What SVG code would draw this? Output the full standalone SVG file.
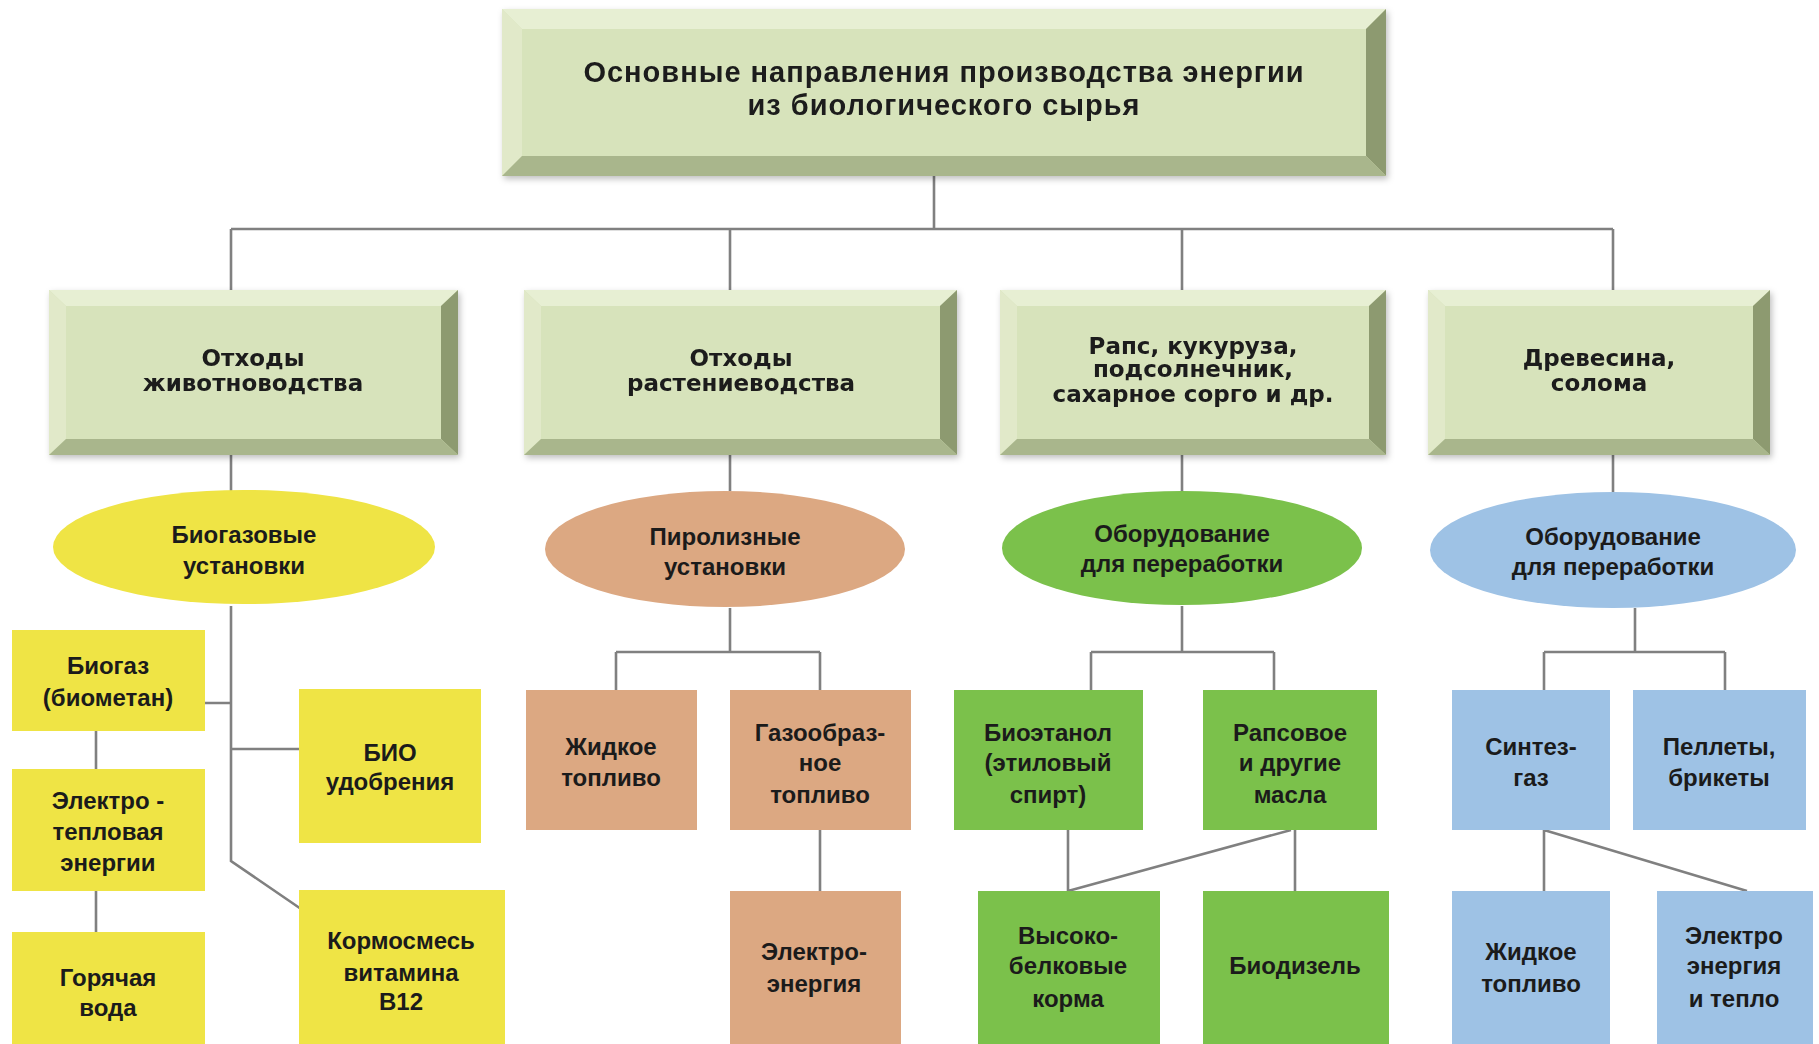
<svg xmlns="http://www.w3.org/2000/svg" width="1819" height="1044" viewBox="0 0 1819 1044">
<style>
  .face{fill:#d7e3bb}
  .bt{fill:#e7efd3}
  .bl{fill:#e1e9c9}
  .br{fill:#8d9a70}
  .bb{fill:#a9b68c}
  .conn{stroke:#808080;stroke-width:2.6;fill:none}
  .t1{font-family:"Liberation Sans","Arial",sans-serif;font-weight:bold;font-size:29px;letter-spacing:1px;fill:#1b1b1b;text-anchor:middle;dominant-baseline:central}
  .t2{font-family:"DejaVu Sans","Verdana",sans-serif;font-weight:bold;font-size:23px;fill:#1b1b1b;text-anchor:middle;dominant-baseline:central}
  .t3{font-family:"Liberation Sans","Arial",sans-serif;font-weight:bold;font-size:24px;fill:#1b1b1b;text-anchor:middle;dominant-baseline:central}
  .yel{fill:#efe445}
  .tan{fill:#dca882}
  .grn{fill:#7bc14b}
  .blu{fill:#9ec2e5}
</style>
<defs>
  <filter id="sh" x="-5%" y="-5%" width="112%" height="115%">
    <feDropShadow dx="2" dy="3" stdDeviation="3" flood-color="#000" flood-opacity="0.25"/>
  </filter>
</defs>
<rect width="1819" height="1044" fill="#ffffff"/>

<g id="connectors" class="conn">
  <path d="M934 176 V229 M231 229 H1613 M231 229 V290 M730 229 V290 M1182 229 V290 M1613 229 V290"/>
  <path d="M231 455 V491 M730 455 V491 M1182 455 V492 M1613 455 V492"/>
  <path d="M231 606 V861 L304 911 M205 703 H231 M231 749 H299 M96 731 V769 M96 891 V932"/>
  <path d="M730 608 V652 M616 652 H820 M616 652 V690 M820 652 V690 M820 830 V891"/>
  <path d="M1182 606 V652 M1091 652 H1274 M1091 652 V690 M1274 652 V690 M1068 830 V891 M1291 830 L1068 891 M1295 830 V891"/>
  <path d="M1635 608 V652 M1544 652 H1725 M1544 652 V690 M1725 652 V690 M1544 830 V891 M1544 830 L1747 891"/>
</g>

<g id="title" filter="url(#sh)">
  <rect class="face" x="502" y="9" width="884" height="167"/>
  <polygon class="bt" points="502,9 1386,9 1366,29 522,29"/>
  <polygon class="bl" points="502,9 522,29 522,156 502,176"/>
  <polygon class="br" points="1386,9 1386,176 1366,156 1366,29"/>
  <polygon class="bb" points="502,176 1386,176 1366,156 522,156"/>
  <text class="t1" x="944" y="72">Основные направления производства энергии</text>
  <text class="t1" x="944" y="105">из биологического сырья</text>
</g>

<g id="src-animal" filter="url(#sh)">
  <rect class="face" x="49" y="290" width="409" height="165"/>
  <polygon class="bt" points="49,290 458,290 441,306 66,306"/>
  <polygon class="bl" points="49,290 66,306 66,439 49,455"/>
  <polygon class="br" points="458,290 458,455 441,439 441,306"/>
  <polygon class="bb" points="49,455 458,455 441,439 66,439"/>
  <text class="t2" x="253" y="358">Отходы</text>
  <text class="t2" x="253" y="383">животноводства</text>
</g>

<g id="src-plant" filter="url(#sh)">
  <rect class="face" x="524" y="290" width="433" height="165"/>
  <polygon class="bt" points="524,290 957,290 940,306 541,306"/>
  <polygon class="bl" points="524,290 541,306 541,439 524,455"/>
  <polygon class="br" points="957,290 957,455 940,439 940,306"/>
  <polygon class="bb" points="524,455 957,455 940,439 541,439"/>
  <text class="t2" x="741" y="358">Отходы</text>
  <text class="t2" x="741" y="383">растениеводства</text>
</g>

<g id="src-crops" filter="url(#sh)">
  <rect class="face" x="1000" y="290" width="386" height="165"/>
  <polygon class="bt" points="1000,290 1386,290 1369,306 1017,306"/>
  <polygon class="bl" points="1000,290 1017,306 1017,439 1000,455"/>
  <polygon class="br" points="1386,290 1386,455 1369,439 1369,306"/>
  <polygon class="bb" points="1000,455 1386,455 1369,439 1017,439"/>
  <text class="t2" x="1193" y="346">Рапс, кукуруза,</text>
  <text class="t2" x="1193" y="369">подсолнечник,</text>
  <text class="t2" x="1193" y="394">сахарное сорго и др.</text>
</g>

<g id="src-wood" filter="url(#sh)">
  <rect class="face" x="1428" y="290" width="342" height="165"/>
  <polygon class="bt" points="1428,290 1770,290 1753,306 1445,306"/>
  <polygon class="bl" points="1428,290 1445,306 1445,439 1428,455"/>
  <polygon class="br" points="1770,290 1770,455 1753,439 1753,306"/>
  <polygon class="bb" points="1428,455 1770,455 1753,439 1445,439"/>
  <text class="t2" x="1599" y="358">Древесина,</text>
  <text class="t2" x="1599" y="383">солома</text>
</g>

<g id="ell-biogas">
  <ellipse class="yel" cx="244" cy="547" rx="191" ry="57"/>
  <text class="t3" x="244" y="534">Биогазовые</text>
  <text class="t3" x="244" y="565">установки</text>
</g>
<g id="ell-pyro">
  <ellipse class="tan" cx="725" cy="549" rx="180" ry="58"/>
  <text class="t3" x="725" y="536">Пиролизные</text>
  <text class="t3" x="725" y="566">установки</text>
</g>
<g id="ell-equip1">
  <ellipse class="grn" cx="1182" cy="548" rx="180" ry="57"/>
  <text class="t3" x="1182" y="533">Оборудование</text>
  <text class="t3" x="1182" y="563">для переработки</text>
</g>
<g id="ell-equip2">
  <ellipse class="blu" cx="1613" cy="550" rx="183" ry="58"/>
  <text class="t3" x="1613" y="536">Оборудование</text>
  <text class="t3" x="1613" y="566">для переработки</text>
</g>

<g id="n-biogas">
  <rect class="yel" x="12" y="630" width="193" height="101"/>
  <text class="t3" x="108" y="665">Биогаз</text>
  <text class="t3" x="108" y="697">(биометан)</text>
</g>
<g id="n-elheat">
  <rect class="yel" x="12" y="769" width="193" height="122"/>
  <text class="t3" x="108" y="800">Электро -</text>
  <text class="t3" x="108" y="831">тепловая</text>
  <text class="t3" x="108" y="862">энергии</text>
</g>
<g id="n-hotwater">
  <rect class="yel" x="12" y="932" width="193" height="112"/>
  <text class="t3" x="108" y="977">Горячая</text>
  <text class="t3" x="108" y="1007">вода</text>
</g>
<g id="n-biofert">
  <rect class="yel" x="299" y="689" width="182" height="154"/>
  <text class="t3" x="390" y="752">БИО</text>
  <text class="t3" x="390" y="781">удобрения</text>
</g>
<g id="n-feed">
  <rect class="yel" x="299" y="890" width="206" height="154"/>
  <text class="t3" x="401" y="940">Кормосмесь</text>
  <text class="t3" x="401" y="972">витамина</text>
  <text class="t3" x="401" y="1001">B12</text>
</g>

<g id="n-liquid1">
  <rect class="tan" x="526" y="690" width="171" height="140"/>
  <text class="t3" x="611" y="746">Жидкое</text>
  <text class="t3" x="611" y="777">топливо</text>
</g>
<g id="n-gas">
  <rect class="tan" x="730" y="690" width="181" height="140"/>
  <text class="t3" x="820" y="732">Газообраз-</text>
  <text class="t3" x="820" y="762">ное</text>
  <text class="t3" x="820" y="794">топливо</text>
</g>
<g id="n-elec1">
  <rect class="tan" x="730" y="891" width="171" height="153"/>
  <text class="t3" x="814" y="951">Электро-</text>
  <text class="t3" x="814" y="983">энергия</text>
</g>

<g id="n-bioethanol">
  <rect class="grn" x="954" y="690" width="189" height="140"/>
  <text class="t3" x="1048" y="732">Биоэтанол</text>
  <text class="t3" x="1048" y="762">(этиловый</text>
  <text class="t3" x="1048" y="794">спирт)</text>
</g>
<g id="n-oils">
  <rect class="grn" x="1203" y="690" width="174" height="140"/>
  <text class="t3" x="1290" y="732">Рапсовое</text>
  <text class="t3" x="1290" y="762">и другие</text>
  <text class="t3" x="1290" y="794">масла</text>
</g>
<g id="n-protein">
  <rect class="grn" x="978" y="891" width="182" height="153"/>
  <text class="t3" x="1068" y="935">Высоко-</text>
  <text class="t3" x="1068" y="965">белковые</text>
  <text class="t3" x="1068" y="998">корма</text>
</g>
<g id="n-biodiesel">
  <rect class="grn" x="1203" y="891" width="186" height="153"/>
  <text class="t3" x="1295" y="965">Биодизель</text>
</g>

<g id="n-syngas">
  <rect class="blu" x="1452" y="690" width="158" height="140"/>
  <text class="t3" x="1531" y="746">Синтез-</text>
  <text class="t3" x="1531" y="777">газ</text>
</g>
<g id="n-pellets">
  <rect class="blu" x="1633" y="690" width="173" height="140"/>
  <text class="t3" x="1719" y="746">Пеллеты,</text>
  <text class="t3" x="1719" y="777">брикеты</text>
</g>
<g id="n-liquid2">
  <rect class="blu" x="1452" y="891" width="158" height="153"/>
  <text class="t3" x="1531" y="951">Жидкое</text>
  <text class="t3" x="1531" y="983">топливо</text>
</g>
<g id="n-elec2">
  <rect class="blu" x="1657" y="891" width="156" height="153"/>
  <text class="t3" x="1734" y="935">Электро</text>
  <text class="t3" x="1734" y="965">энергия</text>
  <text class="t3" x="1734" y="998">и тепло</text>
</g>
</svg>
